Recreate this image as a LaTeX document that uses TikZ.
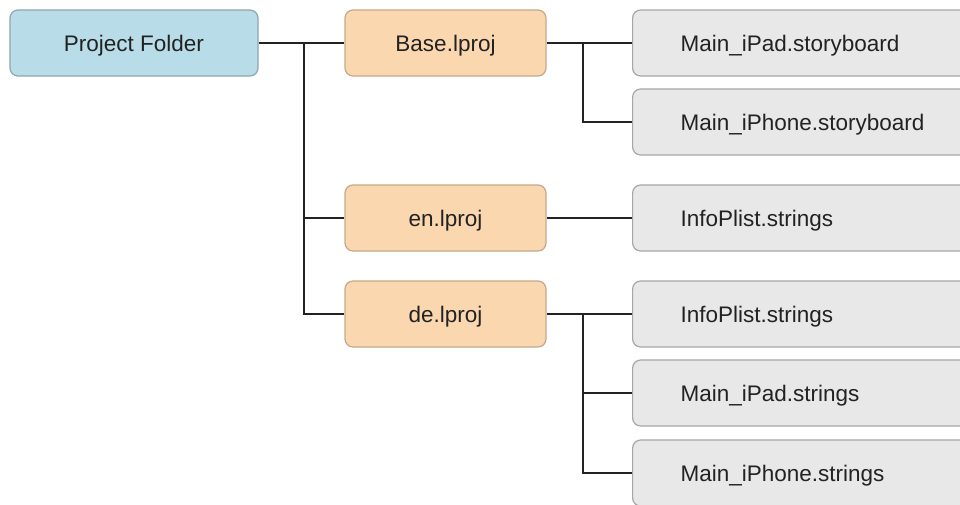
\documentclass[tikz,border=0pt]{standalone}
\usepackage{fontspec}
\setmainfont{Liberation Sans}
\definecolor{bluefill}{HTML}{B9DDE8}
\definecolor{blueline}{HTML}{8FA5AC}
\definecolor{orfill}{HTML}{FBD7B0}
\definecolor{orline}{HTML}{C4A88C}
\definecolor{gfill}{HTML}{E8E8E8}
\definecolor{gline}{HTML}{A6A6A6}
\definecolor{ink}{HTML}{222222}
\tikzset{
  x=1pt, y=1pt,
  boxbase/.style={rounded corners=8pt, line width=1.2pt, minimum height=66pt, inner sep=0pt,
    text height=16.3pt, text depth=0pt,
    font=\fontsize{22.5}{27}\selectfont, text=ink},
  rootbox/.style={boxbase, fill=bluefill, draw=blueline, minimum width=248pt},
  lprojbox/.style={boxbase, fill=orfill, draw=orline, minimum width=201pt},
  filebox/.style={boxbase, fill=gfill, draw=gline, anchor=west, inner xsep=48pt, text width=252pt, align=left},
  conn/.style={draw=ink, line width=1.8pt}
}
\begin{document}
\begin{tikzpicture}
\useasboundingbox (0,0) rectangle (960,-504);
\clip (0,0) rectangle (960,-504);
\node[rootbox] (pf) at (134,-43) {Project Folder};
\node[lprojbox] (base) at (445.5,-43) {Base.lproj};
\node[lprojbox] (en) at (445.5,-218) {en.lproj};
\node[lprojbox] (de) at (445.5,-314) {de.lproj};
\node[filebox] (sb1) at (632,-43) {Main\_iPad.storyboard};
\node[filebox] (sb2) at (632,-122) {Main\_iPhone.storyboard};
\node[filebox] (ip1) at (632,-218) {InfoPlist.strings};
\node[filebox] (ip2) at (632,-314) {InfoPlist.strings};
\node[filebox] (ms1) at (632,-393) {Main\_iPad.strings};
\node[filebox] (ms2) at (632,-473) {Main\_iPhone.strings};
\coordinate (j1) at (304,-43);
\coordinate (j2) at (583,-43);
\coordinate (j3) at (583,-314);
\draw[conn] (pf.east) -- (base.west);
\draw[conn] (j1) |- (en.west);
\draw[conn] (j1) |- (de.west);
\draw[conn] (base.east) -- (sb1.west);
\draw[conn] (j2) |- (sb2.west);
\draw[conn] (en.east) -- (ip1.west);
\draw[conn] (de.east) -- (ip2.west);
\draw[conn] (j3) |- (ms1.west);
\draw[conn] (j3) |- (ms2.west);
\end{tikzpicture}
\end{document}
